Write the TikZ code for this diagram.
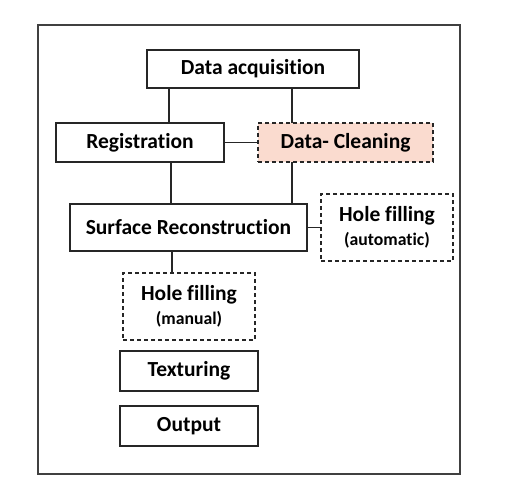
\documentclass[tikz,border=0pt]{standalone}
\usepackage{fontspec}
\setmainfont{Carlito}[Ligatures=NoCommon]
\begin{document}
\begin{tikzpicture}[x=1pt,y=-1pt,
  box/.style={draw=black!85,line width=1.2pt,inner sep=0pt,font=\bfseries\fontsize{21.5}{23}\selectfont,align=center},
  dbox/.style={box,dashed,dash pattern=on 4pt off 3pt},
  conn/.style={draw=black!85,line width=1.2pt}]
\useasboundingbox (0,0) rectangle (505,497);
\draw[draw=black!75,line width=1.3pt] (38,25) rectangle (460,474);
\node[box,minimum width=212pt,minimum height=38pt] (acq) at (253,69) {Data acquisition};
\node[box,minimum width=168pt,minimum height=39pt] (reg) at (140,142.5) {Registration};
\node[dbox,fill={rgb,255:red,250;green,219;blue,207},minimum width=175pt,minimum height=39pt] (clean) at (345.5,142.5) {Data- Cleaning};
\node[box,minimum width=237pt,minimum height=47pt] (surf) at (188.5,227.5) {Surface Reconstruction};
\node[dbox,minimum width=132pt,minimum height=67pt] (hauto) at (387,227.5) {Hole filling\\[1pt]{\fontsize{17.7}{19}\selectfont(automatic)}};
\node[dbox,minimum width=132pt,minimum height=67pt] (hman) at (189,306.5) {Hole filling\\[1pt]{\fontsize{17.7}{19}\selectfont(manual)}};
\node[box,minimum width=138pt,minimum height=40pt] (tex) at (189,371) {Texturing};
\node[box,minimum width=138pt,minimum height=40pt] (out) at (189,426) {Output};
\draw[conn] (169,88) -- (169,123);
\draw[conn] (292,88) -- (292,123);
\draw[conn] (reg.east) -- (clean.west);
\draw[conn] (171,162) -- (171,204);
\draw[conn] (292,162) -- (292,204);
\draw[conn] (surf.east) -- (hauto.west);
\draw[conn] (172,251) -- (172,273);
\end{tikzpicture}
\end{document}
